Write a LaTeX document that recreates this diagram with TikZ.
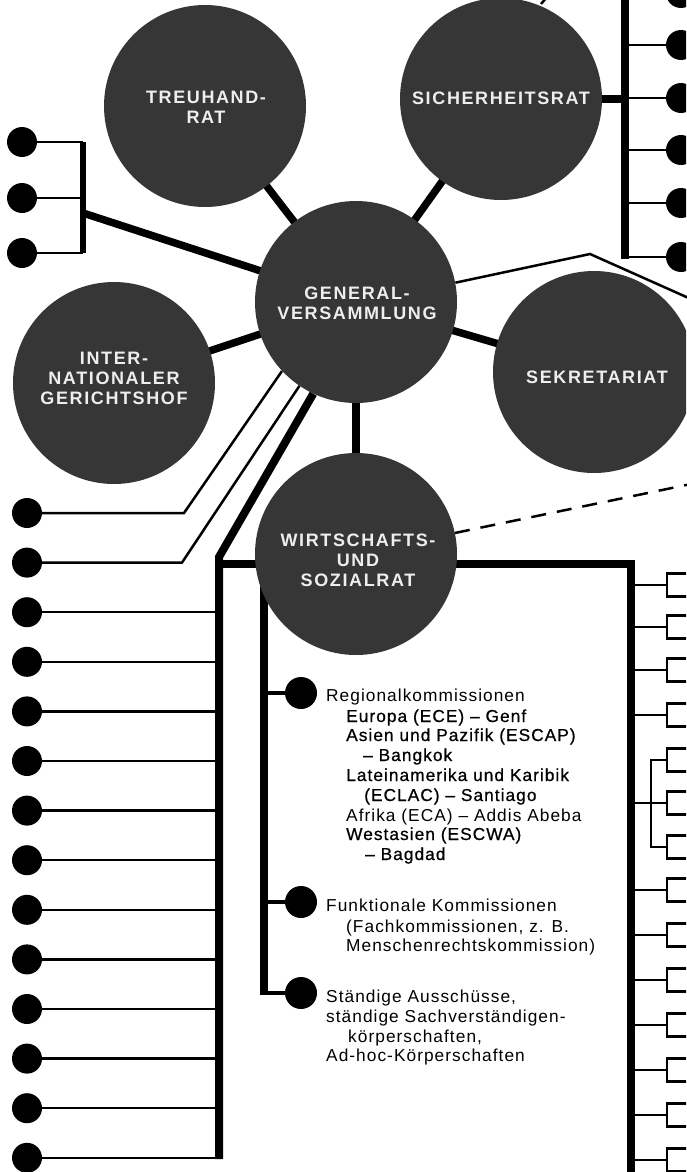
\documentclass[tikz,border=0pt]{standalone}
\usepackage{fontspec}
\setmainfont{Liberation Sans}
\newfontfamily\lblfont[LetterSpace=9]{Liberation Sans}
\newfontfamily\txtfont[LetterSpace=6]{Liberation Sans}
\newfontfamily\medfont[LetterSpace=6,FakeBold=0.7]{Liberation Sans}
\usetikzlibrary{backgrounds}
\definecolor{circfill}{RGB}{54,54,54}
\definecolor{lbltext}{RGB}{238,238,238}
\begin{document}
\begin{tikzpicture}[x=1pt,y=-1pt,
  circ/.style={circle,fill=circfill,minimum size=202pt,inner sep=0pt},
  lbl/.style={text=lbltext,font=\lblfont\bfseries\fontsize{18}{20}\selectfont,align=center,inner sep=0pt},
  dot/.style={circle,fill=black,minimum size=30pt,inner sep=0pt},
  sdot/.style={circle,fill=black,minimum size=32pt,inner sep=0pt},
  sq/.style={draw=black,line width=2.5pt,minimum width=30pt,minimum height=23pt,inner sep=0pt},
  thickln/.style={line width=7.5pt},
  barln/.style={line width=8pt},
  tlbarln/.style={line width=6pt},
  thinln/.style={line width=2.5pt},
  midln/.style={line width=3.5pt},
  dashln/.style={line width=2.5pt,dash pattern=on 15pt off 11pt},
  bodyl/.style={anchor=base west,inner sep=0pt,font=\txtfont\fontsize{17.3}{20}\selectfont},
  bodym/.style={anchor=base west,inner sep=0pt,font=\medfont\fontsize{17.3}{20}\selectfont},
]
\useasboundingbox (0,0) rectangle (686,1172);
\clip (0,0) rectangle (686,1172);

% main circles
\node[circ] (tr) at (205,106) {};
\node[circ] (sr) at (501,99) {};
\node[circ] (ga) at (356,302) {};
\node[circ] (igh) at (114,383) {};
\node[circ] (sek) at (594,372) {};
\node[circ] (wiso) at (356,554) {};

\node[lbl] (trt) at (206,107) {TREUHAND-\\RAT};
\node[lbl] (srt) at (501,98) {SICHERHEITSRAT};
\node[lbl] (gat) at (357,303) {GENERAL-\\VERSAMMLUNG};
\node[lbl] (ight) at (114,378) {INTER-\\NATIONALER\\GERICHTSHOF};
\node[lbl] (sekt) at (597,377) {SEKRETARIAT};
\node[lbl] (wisot) at (358,560) {WIRTSCHAFTS-\\UND\\SOZIALRAT};

% top-left group
\node[dot] (T1) at (22,142) {};
\node[dot] (T2) at (22,198) {};
\node[dot] (T3) at (22,253) {};
\coordinate (tlbar) at (83,142);
\coordinate (tlbarb) at (83,253);
\coordinate (tlj) at (83,213);

% top-right group
\foreach \i/\y in {0/-7,1/45,2/98,3/150,4/203,5/257}
  \node[dot] (R\i) at (681,\y) {};
\coordinate (tbar) at (625,-12);
\coordinate (tbarb) at (625,258.5);

% left column dots
\foreach \i/\y in {1/513,2/562.6,3/612.2,4/661.8,5/711.4,6/761,7/810.6,8/860.2,9/909.8,10/959.4,11/1009,12/1058.6,13/1108.2,14/1157.8}
  \node[dot] (L\i) at (27,\y) {};
\coordinate (lbar) at (219,557);
\coordinate (lbarb) at (219,1159.2);
\coordinate (bend1) at (184,513);
\coordinate (bend2) at (182,562.6);

% right squares
\foreach \i/\y in {1/585,2/627,3/670,4/715,5/760,6/803,7/847,8/890,9/935,10/980,11/1025,12/1070,13/1115,14/1160}
  \node[sq] (S\i) at (682,\y) {};
\coordinate (rbar) at (631,564);
\coordinate (rbarb) at (631,1180);
\coordinate (sbr) at (651,803);

% inner dots and text
\node[sdot] (D1) at (301,693) {};
\node[sdot] (D2) at (301,902) {};
\node[sdot] (D3) at (301,993) {};
\coordinate (ibar) at (264,564);
\coordinate (ibarb) at (264,995);

\node[bodyl] (a1) at (326,701) {Regionalkommissionen};
\node[bodym] (a2) at (346,722) {Europa (ECE) – Genf};
\node[bodym] (a3) at (346,741) {Asien und Pazifik (ESCAP)};
\node[bodym] (a4) at (363,761) {– Bangkok};
\node[bodym] (a5) at (346,781) {Lateinamerika und Karibik};
\node[bodym] (a6) at (364,801) {(ECLAC) – Santiago};
\node[bodyl] (a7) at (346,821) {Afrika (ECA) – Addis Abeba};
\node[bodym] (a8) at (346,840) {Westasien (ESCWA)};
\node[bodym] (a9) at (365,860) {– Bagdad};

\node[bodyl] (b1) at (326,911) {Funktionale Kommissionen};
\node[bodyl] (b2) at (346,932) {(Fachkommissionen, z. B.};
\node[bodyl] (b3) at (346,951) {Menschenrechtskommission)};

\node[bodyl] (c1) at (326,1002) {Ständige Ausschüsse,};
\node[bodyl] (c2) at (326,1022) {ständige Sachverständigen-};
\node[bodyl] (c3) at (348,1042) {körperschaften,};
\node[bodyl] (c4) at (326,1061) {Ad-hoc-Körperschaften};

\coordinate (dashend) at (720,478);
\coordinate (gapeak) at (590,254);
\coordinate (gaend) at (720,312);
\coordinate (tick1) at (541,4);
\coordinate (tick2) at (547,-3);

\begin{scope}[on background layer]
  % spokes
  \draw[thickln] (tr.center) -- (ga.center);
  \draw[thickln] (sr.center) -- (ga.center);
  \draw[thickln] (igh.center) -- (ga.center);
  \draw[thickln] (sek.center) -- (ga.center);
  \draw[thickln] (wiso.center) -- (ga.center);
  % top-left group
  \draw[tlbarln] (tlbar) -- (tlbarb);
  \foreach \i in {1,2,3} \draw[thinln] (T\i) -- (T\i -| tlbar);
  \draw[thickln] (tlj) -- (ga.center);
  % top-right group
  \draw[barln] (tbar) -- (tbarb);
  \foreach \i in {0,...,5} \draw[thinln] (R\i -| tbar) -- (R\i);
  \draw[thickln] (sr.center) -- (sr.center -| tbar);
  \draw[thinln] (tick1) -- (tick2);
  % GA thin line to right
  \draw[thinln] (ga.11) -- (gapeak) -- (gaend);
  % dashed line from WiSo
  \draw[dashln] (wiso.12) -- (dashend);
  % thin lines to first two left dots
  \draw[thinln] (ga.223) -- (bend1) -- (L1);
  \draw[thinln] (ga.236) -- (bend2) -- (L2);
  % thick line down to left bar
  \draw[barln] (ga.245) -- (lbar) -- (lbarb);
  \foreach \i in {3,...,14} \draw[thinln] (L\i) -- (L\i -| lbar);
  % box top and right bar
  \draw[barln] (lbar |- rbar) -- (rbar) -- (rbarb);
  \foreach \i in {1,2,3,4,8,9,10,11,12,13,14} \draw[thinln] (S\i -| rbar) -- (S\i.west);
  \draw[thinln] (sbr -| rbar) -- (S6.west);
  \draw[thinln] (S5.west) -- (S5.west -| sbr) -- (S7.west -| sbr) -- (S7.west);
  % inner bar
  \draw[barln] (ibar) -- (ibarb);
  \foreach \i in {1,2,3} \draw[midln] (D\i -| ibar) -- (D\i);
\end{scope}
\end{tikzpicture}
\end{document}
